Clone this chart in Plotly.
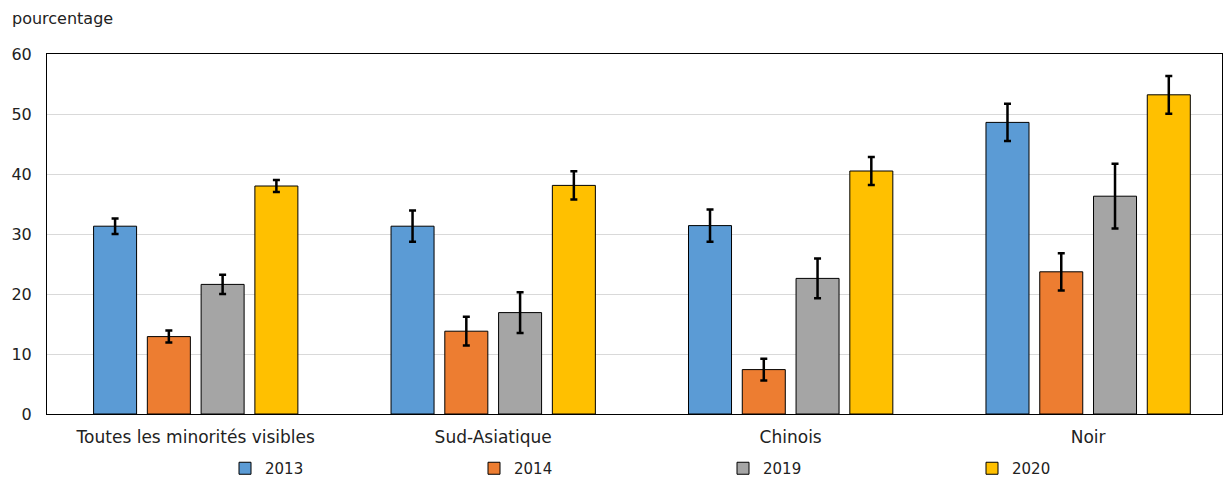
import plotly.graph_objects as go

categories = ["Toutes les minorités visibles", "Sud-Asiatique", "Chinois", "Noir"]
years = ["2013", "2014", "2019", "2020"]
values_2013 = [31.3, 31.3, 31.4, 48.6]
values_2014 = [12.9, 13.8, 7.4, 23.7]
values_2019 = [21.6, 16.9, 22.6, 36.3]
values_2020 = [38.0, 38.1, 40.5, 53.2]
err_2013 = [1.3, 2.6, 2.7, 3.1]
err_2014 = [1.0, 2.4, 1.8, 3.1]
err_2019 = [1.6, 3.4, 3.3, 5.4]
err_2020 = [1.0, 2.35, 2.35, 3.15]
colors = ["#5B9BD5", "#ED7D31", "#A5A5A5", "#FFC000"]

series = [values_2013, values_2014, values_2019, values_2020]
errors = [err_2013, err_2014, err_2019, err_2020]

fig = go.Figure()
for name, vals, errs, col in zip(years, series, errors, colors):
    fig.add_trace(go.Bar(
        x=categories, y=vals, name=name,
        marker=dict(color=col, line=dict(color="black", width=1)),
        error_y=dict(type="data", array=errs, visible=True,
                     color="black", thickness=2.5, width=3.5),
    ))

font_family = "DejaVu Sans"
fig.update_layout(
    width=1223, height=478, autosize=False,
    margin=dict(l=47, r=1, t=54, b=64, autoexpand=False),
    paper_bgcolor="white", plot_bgcolor="white",
    barmode="group", bargap=0.277, bargroupgap=0.2,
    font=dict(family=font_family, size=16, color="#222222"),
    showlegend=True,
    legend=dict(orientation="h", x=225 / 1223, xref="container", xanchor="left",
                y=9.5 / 478, yref="container", yanchor="middle",
                entrywidth=204, entrywidthmode="pixels",
                font=dict(size=15), traceorder="normal"),
    annotations=[dict(text="pourcentage", xref="paper", yref="paper",
                      x=-37 / 1175, y=1.0, xanchor="left", yanchor="bottom",
                      yshift=24, showarrow=False, font=dict(size=16))],
)
fig.update_xaxes(range=[-0.5, 3.45], showline=True, linecolor="black", linewidth=1,
                 mirror=True, ticks="", tickfont=dict(size=17), ticklabelstandoff=8)
fig.update_yaxes(range=[0, 60], dtick=10, showline=True, linecolor="black",
                 linewidth=1, mirror=True, showgrid=True, gridcolor="#d9d9d9",
                 gridwidth=1, ticks="", tickfont=dict(size=16), zeroline=False,
                 ticklabelstandoff=11)

fig.write_html(
    "out.html",
    config={"responsive": False, "displayModeBar": False},
    post_script="document.body.style.margin='0';document.body.style.overflow='hidden';",
)
